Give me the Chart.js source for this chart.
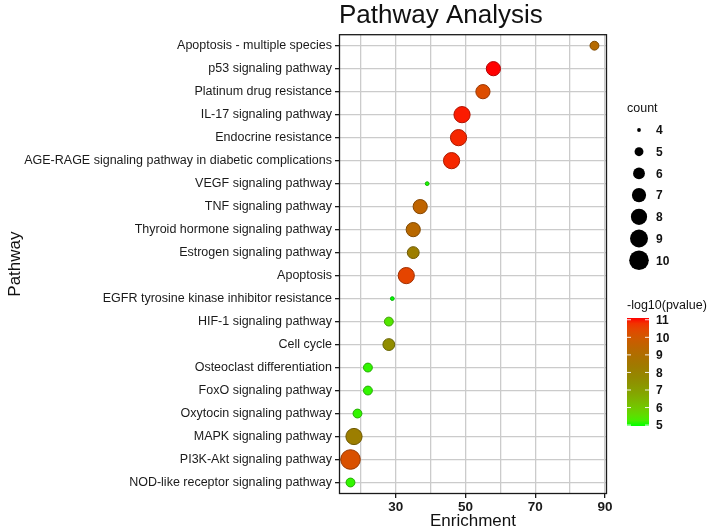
<!DOCTYPE html>
<html>
<head>
<meta charset="utf-8">
<script src="https://cdn.jsdelivr.net/npm/chart.js@4.4.0/dist/chart.umd.min.js"></script>
<style>
  html, body { margin: 0; padding: 0; background: #fff; }
  #wrap { width: 708px; height: 531px; }
</style>
</head>
<body>
<div id="wrap"><canvas id="pathwayChart"></canvas></div>
<script>
// Pathway data (top to bottom)
const pathways = [
  'Apoptosis - multiple species',
  'p53 signaling pathway',
  'Platinum drug resistance',
  'IL-17 signaling pathway',
  'Endocrine resistance',
  'AGE-RAGE signaling pathway in diabetic complications',
  'VEGF signaling pathway',
  'TNF signaling pathway',
  'Thyroid hormone signaling pathway',
  'Estrogen signaling pathway',
  'Apoptosis',
  'EGFR tyrosine kinase inhibitor resistance',
  'HIF-1 signaling pathway',
  'Cell cycle',
  'Osteoclast differentiation',
  'FoxO signaling pathway',
  'Oxytocin signaling pathway',
  'MAPK signaling pathway',
  'PI3K-Akt signaling pathway',
  'NOD-like receptor signaling pathway'
];
const enrichment = [87, 58, 55, 49, 48, 46, 39, 37, 35, 35, 33, 29, 28, 28, 22, 22, 19, 18, 17, 17];
const counts     = [5, 7, 7, 8, 8, 8, 4, 7, 7, 6, 8, 4, 5, 6, 5, 5, 5, 8, 10, 5];
const logP       = [9.2, 11.1, 10.3, 11.0, 10.9, 10.9, 5.0, 9.5, 9.3, 8.2, 10.5, 4.95, 5.4, 7.6, 5.1, 5.1, 5.1, 8.2, 10.2, 5.1];

const xTickLabels = [30, 50, 70, 90];
const countLegend = [4, 5, 6, 7, 8, 9, 10];
const pvalueLegend = [5, 6, 7, 8, 9, 10, 11];

const FONT = '"Liberation Sans", Arial, Helvetica, sans-serif';

// colour scale: green -> red, interpolated in Lab like ggplot
function toLin(c) { c /= 255; return c <= 0.04045 ? c / 12.92 : Math.pow((c + 0.055) / 1.055, 2.4); }
function fromLin(c) {
  c = c <= 0.0031308 ? 12.92 * c : 1.055 * Math.pow(c, 1 / 2.4) - 0.055;
  return Math.round(Math.max(0, Math.min(1, c)) * 255);
}
function rgbToLab(rgb) {
  const R = toLin(rgb[0]), G = toLin(rgb[1]), B = toLin(rgb[2]);
  const f = t => t > 0.008856 ? Math.cbrt(t) : 7.787 * t + 16 / 116;
  const x = f((0.4124 * R + 0.3576 * G + 0.1805 * B) / 0.95047);
  const y = f(0.2126 * R + 0.7152 * G + 0.0722 * B);
  const z = f((0.0193 * R + 0.1192 * G + 0.9505 * B) / 1.08883);
  return [116 * y - 16, 500 * (x - y), 200 * (y - z)];
}
function labToRgb(lab) {
  const fi = t => t * t * t > 0.008856 ? t * t * t : (t - 16 / 116) / 7.787;
  const yy = (lab[0] + 16) / 116;
  const x = fi(lab[1] / 500 + yy) * 0.95047, y = fi(yy), z = fi(yy - lab[2] / 200) * 1.08883;
  return [
    fromLin(3.2406 * x - 1.5372 * y - 0.4986 * z),
    fromLin(-0.9689 * x + 1.8758 * y + 0.0415 * z),
    fromLin(0.0557 * x - 0.2040 * y + 1.0570 * z)
  ];
}
const LOW = rgbToLab([0, 255, 0]);
const HIGH = rgbToLab([255, 0, 0]);
const pMin = Math.min(...logP), pMax = Math.max(...logP);

function colorFor(v, shade) {
  const t = Math.max(0, Math.min(1, (v - pMin) / (pMax - pMin)));
  const lab = LOW.map((l, i) => l + (HIGH[i] - l) * t);
  // the picture's mid tones come out darker (olive / brown)
  const k = (1 - 0.24 * Math.sin(Math.PI * t)) * (shade || 1);
  const rgb = labToRgb(lab).map(c => Math.round(c * k));
  return `rgb(${rgb[0]},${rgb[1]},${rgb[2]})`;
}

// size scale (area based)
const cMin = Math.min(...counts), cMax = Math.max(...counts);
function radiusFor(c) {
  const t = (c - cMin) / (cMax - cMin);
  return 0.3 + 9.5 * Math.sqrt((1 + 35 * t) / 36);
}

const points = pathways.map((p, i) => ({ x: enrichment[i], y: p }));

const sideLegends = {
  id: 'sideLegends',
  afterDraw(chart) {
    const { ctx, chartArea } = chart;
    const x0 = chartArea.right + 20;
    ctx.save();

    // panel border
    ctx.strokeStyle = '#1a1a1a';
    ctx.lineWidth = 1.3;
    ctx.strokeRect(chartArea.left + 0.5, chartArea.top + 0.5,
      chartArea.right - chartArea.left - 1, chartArea.bottom - chartArea.top - 1);

    ctx.textBaseline = 'middle';
    ctx.textAlign = 'left';
    ctx.fillStyle = '#111';

    // count legend
    ctx.font = '12.5px ' + FONT;
    ctx.fillText('count', x0, 109);
    countLegend.forEach((c, i) => {
      const y = 130 + i * 21.7;
      ctx.beginPath();
      ctx.arc(x0 + 12, y, radiusFor(c), 0, Math.PI * 2);
      ctx.fillStyle = '#000';
      ctx.fill();
      ctx.fillStyle = '#111';
      ctx.font = 'bold 12px ' + FONT;
      ctx.fillText(String(c), x0 + 29, y + 1);
    });

    // colour bar
    ctx.font = '12.5px ' + FONT;
    ctx.fillText('-log10(pvalue)', x0, 306);
    const bx = x0, bw = 22, top = 318, bottom = 426;
    const grad = ctx.createLinearGradient(0, bottom, 0, top);
    for (let k = 0; k <= 20; k++) {
      grad.addColorStop(k / 20, colorFor(pMin + (pMax - pMin) * k / 20));
    }
    ctx.fillStyle = grad;
    ctx.fillRect(bx, top, bw, bottom - top);
    ctx.strokeStyle = 'rgba(255,255,255,0.9)';
    ctx.lineWidth = 1;
    ctx.font = 'bold 12px ' + FONT;
    pvalueLegend.forEach(v => {
      const y = bottom - (v - pMin) / (pMax - pMin) * (bottom - top);
      ctx.beginPath();
      ctx.moveTo(bx, y); ctx.lineTo(bx + 4, y);
      ctx.moveTo(bx + bw - 4, y); ctx.lineTo(bx + bw, y);
      ctx.stroke();
      ctx.fillStyle = '#111';
      ctx.fillText(String(v), x0 + 29, y + 1);
    });
    ctx.restore();
  }
};

const ctx = document.getElementById('pathwayChart').getContext('2d');
const pathwayChart = new Chart(ctx, {
  type: 'scatter',
  data: {
    datasets: [{
      label: 'Pathway',
      data: points,
      showLine: false,
      pointRadius: counts.map(radiusFor),
      pointHoverRadius: counts.map(radiusFor),
      pointBackgroundColor: logP.map(v => colorFor(v)),
      pointBorderColor: logP.map(v => colorFor(v, 0.7)),
      pointBorderWidth: 1
    }]
  },
  options: {
    responsive: true,
    maintainAspectRatio: false,
    animation: false,
    layout: { padding: { left: 0, right: 101, top: 0, bottom: 0 } },
    plugins: {
      legend: { display: false },
      tooltip: { enabled: false },
      title: {
        display: true,
        text: 'Pathway Analysis',
        align: 'start',
        fullSize: false,
        color: '#111',
        font: { family: FONT, size: 26, weight: 'normal' },
        padding: { top: 0, bottom: 3 }
      }
    },
    scales: {
      x: {
        type: 'linear',
        min: 13.7,
        max: 90.6,
        afterBuildTicks: s => {
          s.ticks = [20, 30, 40, 50, 60, 70, 80, 90].map(v => ({ value: v }));
        },
        afterFit: s => { s.height = 37; },
        ticks: {
          color: '#1a1a1a',
          padding: 1,
          maxRotation: 0,
          autoSkip: false,
          font: { family: FONT, size: 13.5, weight: 'bold' },
          callback: v => xTickLabels.includes(v) ? String(v) : ''
        },
        grid: {
          color: '#cbcbcb',
          lineWidth: 1.3,
          tickLength: 4,
          tickColor: c => xTickLabels.includes(c.tick && c.tick.value) ? '#1a1a1a' : 'rgba(0,0,0,0)'
        },
        border: { display: false },
        title: {
          display: true,
          text: 'Enrichment',
          color: '#111',
          font: { family: FONT, size: 17 },
          padding: { top: 0, bottom: -1 }
        }
      },
      y: {
        type: 'category',
        labels: pathways,
        offset: true,
        afterFit: s => { s.width = 339; },
        ticks: {
          color: '#1a1a1a',
          padding: 3,
          autoSkip: false,
          font: { family: FONT, size: 12.5 }
        },
        grid: {
          offset: false,
          color: '#cbcbcb',
          lineWidth: 1.3,
          tickLength: 4,
          tickColor: '#1a1a1a'
        },
        border: { display: false },
        title: {
          display: true,
          text: 'Pathway',
          color: '#111',
          font: { family: FONT, size: 17 },
          padding: { top: 5, bottom: 0 }
        }
      }
    }
  },
  plugins: [sideLegends]
});
</script>
</body>
</html>
